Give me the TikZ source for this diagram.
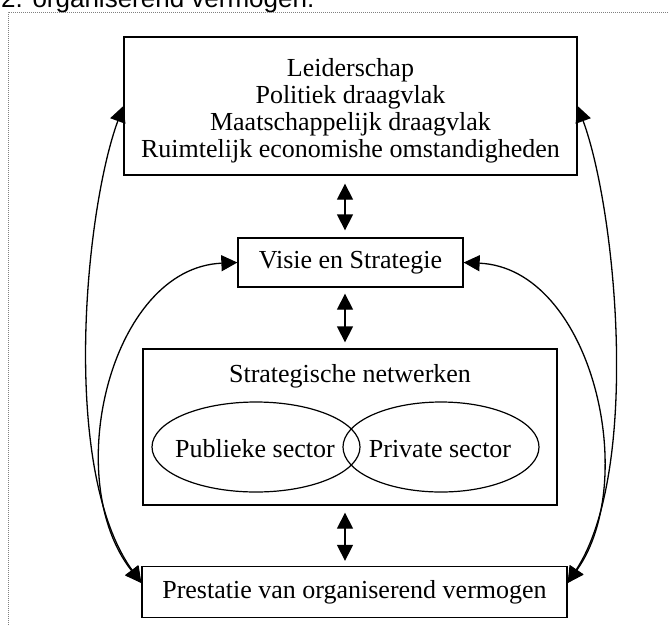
\documentclass[tikz,border=0pt]{standalone}
\usepackage{fontspec}
\setmainfont{Liberation Serif}
\newfontfamily\arialfont{Liberation Sans}
\usetikzlibrary{arrows.meta,shapes.geometric}
\begin{document}
\begin{tikzpicture}[x=1pt,y=-1pt,
  box/.style={draw, line width=1.3pt, inner sep=0pt, font=\fontsize{26}{27}\selectfont, align=center},
  ell/.style={draw, ellipse, line width=1.2pt, inner sep=0pt},
  lbl/.style={font=\fontsize{26}{27}\selectfont, inner sep=0pt, align=center},
  dbl/.style={{Triangle[length=16pt,width=16pt]}-{Triangle[length=16pt,width=16pt]}, line width=1.3pt},
  frame/.style={draw=gray, line width=1pt, dash pattern=on 1pt off 1pt}
]
\useasboundingbox (0,0) rectangle (669,625);
% caption (cut off at the top, as in the reference)
\node[font=\arialfont\fontsize{26}{27}\selectfont, anchor=base west, inner sep=0pt] (title) at (1,7) {2. organiserend vermogen.};
% dotted frame
\draw[frame] (8,625) -- (8,12) -- (669,12);
% boxes
\node[box, minimum width=453pt, minimum height=138pt] (top) at (350.5,106) {};
\node[lbl] (toplbl) at (350.5,111)
  {Leiderschap\\Politiek draagvlak\\Maatschappelijk draagvlak\\Ruimtelijk economishe omstandigheden};
\node[box, minimum width=225pt, minimum height=49pt] (visie) at (350.5,262.5) {Visie en Strategie};
\node[box, minimum width=414pt, minimum height=156pt] (net) at (350,427) {};
\node[lbl] (netlbl) at (350,376) {Strategische netwerken};
\node[ell, minimum width=208pt, minimum height=90pt] (pub) at (256,447) {};
\node[ell, minimum width=196pt, minimum height=90pt] (priv) at (441,447) {};
\node[lbl] (publbl) at (255,449) {Publieke sector};
\node[lbl] (privlbl) at (440,449) {Private sector};
\node[box, minimum width=425pt, minimum height=51pt] (bot) at (354.5,592) {Prestatie van organiserend vermogen};
% vertical double arrows
\draw[dbl] ([xshift=-5.5pt,yshift=-8pt]top.south) -- ([xshift=-5.5pt,yshift=7pt]visie.north);
\draw[dbl] ([xshift=-5.5pt,yshift=-6pt]visie.south) -- ([xshift=-5pt,yshift=6pt]net.north);
\draw[dbl] ([xshift=-5pt,yshift=-7pt]net.south) -- ([xshift=-9.5pt,yshift=5pt]bot.north);
% curved double arrows
\draw[dbl] (top.west) .. controls (85,210) and (60,470) .. ([yshift=9pt]bot.west);
\draw[dbl] (visie.west) .. controls (110,268) and (60,480) .. ([yshift=9pt]bot.west);
\draw[dbl] (top.east) .. controls (616,210) and (641,470) .. ([yshift=9pt]bot.east);
\draw[dbl] (visie.east) .. controls (591,268) and (641,480) .. ([yshift=9pt]bot.east);
\end{tikzpicture}
\end{document}
